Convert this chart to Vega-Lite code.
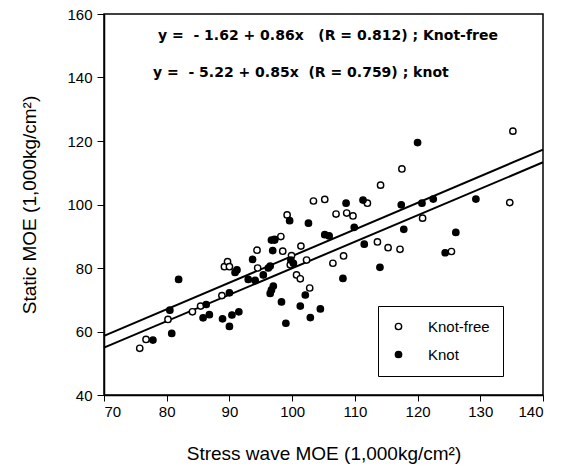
{
  "$schema": "https://vega.github.io/schema/vega-lite/v6.json",
  "width": 439,
  "height": 381,
  "autosize": "none",
  "padding": {"left": 104, "top": 14, "right": 27, "bottom": 75},
  "background": "white",
  "config": {
    "view": {"stroke": "black", "strokeWidth": 1.5},
    "font": "Liberation Sans"
  },
  "datasets": {
    "pts": [
      {"x": 75.7, "y": 54.7, "g": "Knot-free"},
      {"x": 76.7, "y": 57.5, "g": "Knot-free"},
      {"x": 80.2, "y": 63.8, "g": "Knot-free"},
      {"x": 84.1, "y": 66.2, "g": "Knot-free"},
      {"x": 85.4, "y": 68.0, "g": "Knot-free"},
      {"x": 88.8, "y": 71.3, "g": "Knot-free"},
      {"x": 89.2, "y": 80.4, "g": "Knot-free"},
      {"x": 89.7, "y": 82.0, "g": "Knot-free"},
      {"x": 90.0, "y": 80.4, "g": "Knot-free"},
      {"x": 94.4, "y": 85.6, "g": "Knot-free"},
      {"x": 94.5, "y": 80.0, "g": "Knot-free"},
      {"x": 97.2, "y": 88.8, "g": "Knot-free"},
      {"x": 98.2, "y": 89.9, "g": "Knot-free"},
      {"x": 98.5, "y": 85.3, "g": "Knot-free"},
      {"x": 99.2, "y": 96.7, "g": "Knot-free"},
      {"x": 99.9, "y": 83.9, "g": "Knot-free"},
      {"x": 99.7, "y": 81.0, "g": "Knot-free"},
      {"x": 100.7, "y": 77.8, "g": "Knot-free"},
      {"x": 101.3, "y": 76.6, "g": "Knot-free"},
      {"x": 101.4, "y": 86.9, "g": "Knot-free"},
      {"x": 102.3, "y": 82.5, "g": "Knot-free"},
      {"x": 102.8, "y": 73.7, "g": "Knot-free"},
      {"x": 103.4, "y": 101.1, "g": "Knot-free"},
      {"x": 105.2, "y": 101.6, "g": "Knot-free"},
      {"x": 106.5, "y": 81.5, "g": "Knot-free"},
      {"x": 107.0, "y": 97.0, "g": "Knot-free"},
      {"x": 108.2, "y": 83.8, "g": "Knot-free"},
      {"x": 108.7, "y": 97.3, "g": "Knot-free"},
      {"x": 109.7, "y": 96.4, "g": "Knot-free"},
      {"x": 112.0, "y": 100.4, "g": "Knot-free"},
      {"x": 113.6, "y": 88.2, "g": "Knot-free"},
      {"x": 114.1, "y": 106.1, "g": "Knot-free"},
      {"x": 115.3, "y": 86.4, "g": "Knot-free"},
      {"x": 117.2, "y": 85.9, "g": "Knot-free"},
      {"x": 117.5, "y": 111.2, "g": "Knot-free"},
      {"x": 120.8, "y": 95.7, "g": "Knot-free"},
      {"x": 125.4, "y": 85.2, "g": "Knot-free"},
      {"x": 134.7, "y": 100.6, "g": "Knot-free"},
      {"x": 135.2, "y": 123.1, "g": "Knot-free"},
      {"x": 77.8, "y": 57.3, "g": "Knot"},
      {"x": 80.8, "y": 59.4, "g": "Knot"},
      {"x": 80.5, "y": 66.7, "g": "Knot"},
      {"x": 81.9, "y": 76.4, "g": "Knot"},
      {"x": 85.8, "y": 64.3, "g": "Knot"},
      {"x": 86.3, "y": 68.5, "g": "Knot"},
      {"x": 86.8, "y": 65.3, "g": "Knot"},
      {"x": 88.9, "y": 64.0, "g": "Knot"},
      {"x": 90.0, "y": 72.2, "g": "Knot"},
      {"x": 90.0, "y": 61.6, "g": "Knot"},
      {"x": 90.4, "y": 65.2, "g": "Knot"},
      {"x": 91.5, "y": 66.2, "g": "Knot"},
      {"x": 91.2, "y": 79.4, "g": "Knot"},
      {"x": 90.9, "y": 78.6, "g": "Knot"},
      {"x": 93.0, "y": 76.4, "g": "Knot"},
      {"x": 93.7, "y": 82.7, "g": "Knot"},
      {"x": 94.1, "y": 76.1, "g": "Knot"},
      {"x": 95.4, "y": 77.8, "g": "Knot"},
      {"x": 96.2, "y": 80.0, "g": "Knot"},
      {"x": 96.5, "y": 80.6, "g": "Knot"},
      {"x": 96.7, "y": 88.8, "g": "Knot"},
      {"x": 97.2, "y": 89.0, "g": "Knot"},
      {"x": 96.9, "y": 85.5, "g": "Knot"},
      {"x": 97.0, "y": 74.3, "g": "Knot"},
      {"x": 96.7, "y": 73.1, "g": "Knot"},
      {"x": 96.5, "y": 72.0, "g": "Knot"},
      {"x": 98.3, "y": 69.3, "g": "Knot"},
      {"x": 99.0, "y": 62.6, "g": "Knot"},
      {"x": 99.6, "y": 94.9, "g": "Knot"},
      {"x": 99.8, "y": 82.5, "g": "Knot"},
      {"x": 100.2, "y": 81.5, "g": "Knot"},
      {"x": 101.3, "y": 68.0, "g": "Knot"},
      {"x": 102.1, "y": 71.5, "g": "Knot"},
      {"x": 102.6, "y": 94.1, "g": "Knot"},
      {"x": 102.9, "y": 64.4, "g": "Knot"},
      {"x": 104.5, "y": 67.1, "g": "Knot"},
      {"x": 105.2, "y": 90.5, "g": "Knot"},
      {"x": 105.9, "y": 90.1, "g": "Knot"},
      {"x": 108.1, "y": 76.7, "g": "Knot"},
      {"x": 108.6, "y": 100.4, "g": "Knot"},
      {"x": 109.9, "y": 92.8, "g": "Knot"},
      {"x": 111.3, "y": 101.4, "g": "Knot"},
      {"x": 111.5, "y": 87.5, "g": "Knot"},
      {"x": 114.0, "y": 80.2, "g": "Knot"},
      {"x": 117.4, "y": 99.9, "g": "Knot"},
      {"x": 117.8, "y": 92.2, "g": "Knot"},
      {"x": 120.0, "y": 119.5, "g": "Knot"},
      {"x": 120.7, "y": 100.4, "g": "Knot"},
      {"x": 122.5, "y": 101.7, "g": "Knot"},
      {"x": 124.4, "y": 84.8, "g": "Knot"},
      {"x": 126.1, "y": 91.2, "g": "Knot"},
      {"x": 129.3, "y": 101.7, "g": "Knot"}
    ],
    "fits": [
      {"x": 70, "y": 58.6, "line": "Knot-free"},
      {"x": 140, "y": 117.3, "line": "Knot-free"},
      {"x": 70, "y": 54.9, "line": "Knot"},
      {"x": 140, "y": 113.3, "line": "Knot"}
    ],
    "notes": [
      {"x": 78.6, "y": 153.1, "t": "y =\u00a0\u00a0- 1.62 + 0.86x\u00a0\u00a0\u00a0(R = 0.812) ; Knot-free"},
      {"x": 77.8, "y": 141.4, "t": "y =\u00a0\u00a0- 5.22 + 0.85x\u00a0\u00a0(R = 0.759) ; knot"}
    ]
  },
  "layer": [
    {
      "data": {"name": "fits"},
      "mark": {"type": "line", "color": "black", "strokeWidth": 2},
      "encoding": {
        "x": {
          "field": "x", "type": "quantitative",
          "scale": {"domain": [70, 140], "nice": false, "zero": false},
          "axis": {
            "values": [70, 75, 80, 85, 90, 95, 100, 105, 110, 115, 120, 125, 130, 135, 140],
            "labelExpr": "datum.value % 10 === 0 ? datum.label : ''",
            "title": "Stress wave MOE (1,000kg/cm²)",
            "titleFont": "Liberation Sans", "titleFontSize": 19, "titleFontWeight": "normal", "titleColor": "black",
            "titlePadding": 25,
            "labelFont": "Liberation Sans", "labelFontSize": 15, "labelColor": "black", "labelPadding": 3,
            "tickColor": "black", "domainColor": "black", "domainWidth": 1.5,
            "tickSize": {"condition": {"test": "datum.value % 10 === 0", "value": 6}, "value": 3},
            "grid": false
          }
        },
        "y": {
          "field": "y", "type": "quantitative",
          "scale": {"domain": [40, 160], "nice": false, "zero": false},
          "axis": {
            "values": [40, 50, 60, 70, 80, 90, 100, 110, 120, 130, 140, 150, 160],
            "labelExpr": "datum.value % 20 === 0 ? datum.label : ''",
            "title": "Static MOE (1,000kg/cm²)",
            "titleFont": "Liberation Sans", "titleFontSize": 19, "titleFontWeight": "normal", "titleColor": "black",
            "titlePadding": 27,
            "labelFont": "Liberation Sans", "labelFontSize": 15, "labelColor": "black", "labelPadding": 5,
            "tickColor": "black", "domainColor": "black", "domainWidth": 1.5,
            "tickSize": {"condition": {"test": "datum.value % 20 === 0", "value": 7}, "value": 4},
            "grid": false
          }
        },
        "detail": {"field": "line", "type": "nominal"}
      }
    },
    {
      "data": {"name": "pts"},
      "mark": {"type": "point", "shape": "circle", "filled": false, "stroke": "black", "strokeWidth": 1.4, "size": 40, "opacity": 1},
      "encoding": {
        "x": {"field": "x", "type": "quantitative"},
        "y": {"field": "y", "type": "quantitative"},
        "fill": {
          "field": "g", "type": "nominal",
          "scale": {"domain": ["Knot-free", "Knot"], "range": ["white", "black"]},
          "legend": {
            "title": null,
            "orient": "none",
            "legendX": 274,
            "legendY": 292,
            "padding": 13,
            "strokeColor": "black",
            "fillColor": "white",
            "symbolStrokeColor": "black",
            "symbolStrokeWidth": 1.4,
            "symbolSize": 40,
            "symbolType": "circle",
            "rowPadding": 12,
            "labelOffset": 22,
            "labelFont": "Liberation Sans",
            "labelFontSize": 15,
            "labelColor": "black"
          }
        }
      }
    },
    {
      "data": {"name": "notes"},
      "mark": {"type": "text", "align": "left", "baseline": "middle", "font": "DejaVu Sans", "fontSize": 14, "fontWeight": 600, "color": "black"},
      "encoding": {
        "x": {"field": "x", "type": "quantitative"},
        "y": {"field": "y", "type": "quantitative"},
        "text": {"field": "t", "type": "nominal"}
      }
    }
  ]
}
